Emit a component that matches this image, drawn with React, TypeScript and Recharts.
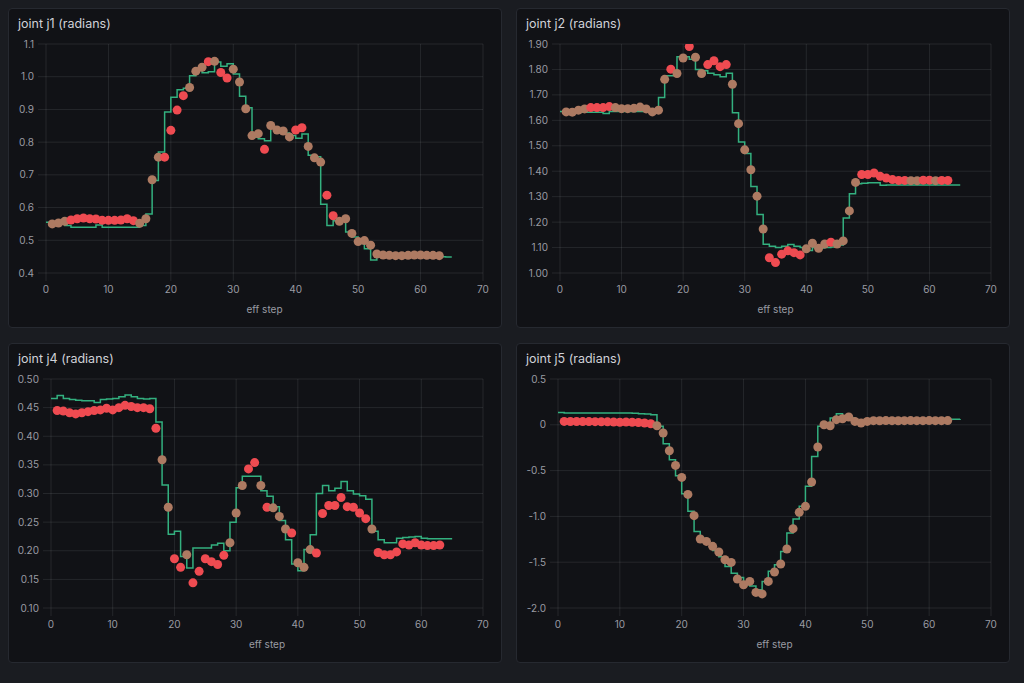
import React from "react";
import { ComposedChart, Line, Scatter, XAxis, YAxis, CartesianGrid } from "recharts";

// Measured joint positions per eff step (0..65) and predicted positions (steps 1..63)
const j1Actual = [
  0.555, 0.55, 0.55, 0.545, 0.54, 0.54, 0.54, 0.54, 0.547, 0.54, 0.54, 0.54, 0.54, 0.54, 0.54, 0.545,
  0.58, 0.683, 0.77, 0.892, 0.937, 0.96, 0.965, 1.003, 1.02, 1.012, 1.015, 1.045, 1.032, 1.04, 1.008, 0.94,
  0.905, 0.815, 0.81, 0.804, 0.845, 0.835, 0.828, 0.82, 0.812, 0.825, 0.76, 0.755, 0.61, 0.545, 0.56, 0.56,
  0.525, 0.51, 0.49, 0.474, 0.44, 0.45, 0.451, 0.451, 0.452, 0.452, 0.452, 0.452, 0.451, 0.451, 0.45, 0.45, 0.449, 0.449,
];
const j1Predicted = [
  0.55, 0.553, 0.558, 0.562, 0.566, 0.568, 0.566, 0.565, 0.561, 0.561, 0.561, 0.562, 0.566, 0.56, 0.552, 0.566,
  0.685, 0.754, 0.754, 0.836, 0.898, 0.942, 0.967, 1.017, 1.029, 1.046, 1.047, 1.013, 0.996, 1.023, 0.984, 0.902,
  0.82, 0.826, 0.778, 0.851, 0.837, 0.834, 0.816, 0.837, 0.844, 0.787, 0.752, 0.739, 0.638, 0.575, 0.558, 0.566,
  0.521, 0.496, 0.499, 0.485, 0.458, 0.455, 0.454, 0.453, 0.453, 0.454, 0.455, 0.455, 0.454, 0.454, 0.453,
];

const j2Actual = [
  1.635, 1.632, 1.632, 1.632, 1.632, 1.632, 1.632, 1.627, 1.635, 1.635, 1.635, 1.635, 1.635, 1.635, 1.635, 1.635,
  1.69, 1.775, 1.775, 1.85, 1.85, 1.84, 1.8, 1.795, 1.785, 1.779, 1.771, 1.785, 1.63, 1.515, 1.47, 1.34,
  1.23, 1.113, 1.105, 1.1, 1.105, 1.112, 1.105, 1.1, 1.088, 1.1, 1.098, 1.1, 1.102, 1.11, 1.216, 1.311,
  1.351, 1.353, 1.355, 1.355, 1.345, 1.346, 1.346, 1.346, 1.346, 1.346, 1.346, 1.346, 1.346, 1.346, 1.346, 1.346, 1.346, 1.346,
];
const j2Predicted = [
  1.633, 1.632, 1.64, 1.645, 1.65, 1.65, 1.65, 1.654, 1.65, 1.646, 1.646, 1.647, 1.652, 1.645, 1.633, 1.64,
  1.761, 1.801, 1.784, 1.845, 1.89, 1.848, 1.784, 1.819, 1.834, 1.811, 1.819, 1.742, 1.587, 1.484, 1.406, 1.302,
  1.173, 1.06, 1.041, 1.074, 1.087, 1.08, 1.071, 1.095, 1.117, 1.097, 1.114, 1.121, 1.114, 1.126, 1.244, 1.356,
  1.387, 1.387, 1.393, 1.38, 1.373, 1.367, 1.364, 1.364, 1.363, 1.363, 1.365, 1.365, 1.363, 1.364, 1.364,
];

const j4Actual = [
  0.466, 0.471, 0.466, 0.464, 0.463, 0.462, 0.462, 0.459, 0.464, 0.465, 0.466, 0.469, 0.472, 0.469, 0.466, 0.465,
  0.466, 0.425, 0.315, 0.229, 0.234, 0.19, 0.17, 0.205, 0.205, 0.205, 0.21, 0.213, 0.2, 0.25, 0.31, 0.33,
  0.33, 0.33, 0.305, 0.295, 0.277, 0.253, 0.219, 0.177, 0.165, 0.202, 0.228, 0.3, 0.314, 0.305, 0.309, 0.321,
  0.305, 0.299, 0.296, 0.29, 0.234, 0.219, 0.214, 0.214, 0.222, 0.223, 0.224, 0.225, 0.222, 0.221, 0.221, 0.221, 0.221, 0.221,
];
const j4Predicted = [
  0.445, 0.444, 0.441, 0.439, 0.441, 0.443, 0.445, 0.446, 0.449, 0.446, 0.45, 0.454, 0.452, 0.45, 0.45, 0.448,
  0.414, 0.359, 0.276, 0.186, 0.171, 0.193, 0.144, 0.164, 0.186, 0.181, 0.176, 0.192, 0.214, 0.266, 0.314, 0.343,
  0.354, 0.314, 0.276, 0.275, 0.26, 0.238, 0.231, 0.179, 0.171, 0.202, 0.196, 0.265, 0.279, 0.279, 0.293, 0.277,
  0.276, 0.266, 0.256, 0.238, 0.197, 0.193, 0.193, 0.198, 0.212, 0.21, 0.214, 0.21, 0.209, 0.209, 0.21,
];

const j5Actual = [
  0.135, 0.13, 0.13, 0.13, 0.13, 0.13, 0.13, 0.128, 0.128, 0.128, 0.13, 0.13, 0.126, 0.12, 0.118, 0.11,
  -0.017, -0.206, -0.381, -0.556, -0.752, -0.945, -1.164, -1.24, -1.298, -1.371, -1.44, -1.546, -1.62, -1.668, -1.746, -1.76,
  -1.8, -1.71, -1.6, -1.527, -1.382, -1.18, -1.028, -0.89, -0.672, -0.345, -0.017, 0.0, 0.074, 0.121, 0.1, 0.074,
  0.04, 0.05, 0.055, 0.055, 0.055, 0.055, 0.055, 0.055, 0.055, 0.055, 0.056, 0.056, 0.057, 0.058, 0.059, 0.06, 0.061, 0.062,
];
const j5Predicted = [
  0.037, 0.036, 0.036, 0.035, 0.035, 0.034, 0.033, 0.032, 0.03, 0.028, 0.03, 0.028, 0.025, 0.02, 0.012, -0.01,
  -0.09, -0.283, -0.443, -0.574, -0.76, -0.992, -1.247, -1.273, -1.327, -1.389, -1.473, -1.502, -1.683, -1.746, -1.71, -1.83,
  -1.846, -1.71, -1.607, -1.52, -1.356, -1.134, -0.956, -0.89, -0.624, -0.242, 0.001, -0.01, 0.056, 0.066, 0.085, 0.037,
  0.02, 0.037, 0.045, 0.044, 0.046, 0.045, 0.044, 0.045, 0.046, 0.045, 0.045, 0.046, 0.045, 0.045, 0.046,
];

const xTicks = [0, 10, 20, 30, 40, 50, 60, 70];
const j1Ticks = [0.4, 0.5, 0.6, 0.7, 0.8, 0.9, 1.0, 1.1];
const j2Ticks = [1.0, 1.1, 1.2, 1.3, 1.4, 1.5, 1.6, 1.7, 1.8, 1.9];
const j4Ticks = [0.1, 0.15, 0.2, 0.25, 0.3, 0.35, 0.4, 0.45, 0.5];
const j5Ticks = [-2.0, -1.5, -1.0, -0.5, 0, 0.5];

const BG = "#1a1c21";
const PANEL = "#111216";
const BORDER = "#262930";
const GRID = "rgba(240,250,255,0.09)";
const TEXT = "#d0d1d8";
const TICK = "#9a9ba3";
const GREEN = "#33b07f";
const RED = "#ef4b51";
const BROWN = "#ad7a62";
const FONT = "Inter, sans-serif";

const W = 492;
const H = 318;
const TOP = 35;
const PLOT_H = 229;
const DOT_R = 4.5;

type PanelDef = {
  title: string;
  actual: number[];
  predicted: number[];
  ticks: number[];
  digits: number;
  yWidth: number;
  left: number;
  top: number;
};

const panels: PanelDef[] = [
  { title: "joint j1 (radians)", actual: j1Actual, predicted: j1Predicted, ticks: j1Ticks, digits: 1, yWidth: 37, left: 8, top: 8 },
  { title: "joint j2 (radians)", actual: j2Actual, predicted: j2Predicted, ticks: j2Ticks, digits: 2, yWidth: 43, left: 516, top: 8 },
  { title: "joint j4 (radians)", actual: j4Actual, predicted: j4Predicted, ticks: j4Ticks, digits: 2, yWidth: 42, left: 8, top: 343 },
  { title: "joint j5 (radians)", actual: j5Actual, predicted: j5Predicted, ticks: j5Ticks, digits: 1, yWidth: 41, left: 516, top: 343 },
];

// a predicted dot is tinted when the measured trace runs through it
function buildDots(p: PanelDef) {
  const lo = p.ticks[0];
  const hi = p.ticks[p.ticks.length - 1];
  const tol = DOT_R / (PLOT_H / (hi - lo));
  return p.predicted.map((v, i) => {
    const step = i + 1;
    const a = p.actual[step - 1];
    const b = p.actual[step];
    const hit = v >= Math.min(a, b) - tol && v <= Math.max(a, b) + tol;
    return { step, predicted: v, hit };
  });
}

const PredDot = (props: any) => {
  if (props.cx == null || props.cy == null) return null;
  return <circle cx={props.cx} cy={props.cy} r={DOT_R} fill={props.payload?.hit ? BROWN : RED} />;
};

function JointPanel({ p }: { p: PanelDef }) {
  const rows = p.actual.map((v, i) => ({ step: i, actual: v }));
  const dots = buildDots(p);
  const tickStyle = { fill: TICK, fontSize: 10, fontFamily: FONT };
  const fmt = (v: number) => (v === 0 ? "0" : v.toFixed(p.digits));
  return (
    <div
      style={{
        position: "absolute", left: p.left, top: p.top, width: W + 2, height: H + 2,
        boxSizing: "border-box", background: PANEL, border: `1px solid ${BORDER}`, borderRadius: 4,
      }}
    >
      <div style={{ position: "absolute", left: 9, top: 7, fontSize: 12.5, lineHeight: "16px", color: TEXT, fontFamily: FONT }}>
        {p.title}
      </div>
      <div style={{ position: "absolute", left: 0, top: 0 }}>
        <ComposedChart width={W} height={H} data={rows} margin={{ top: TOP, right: 18, bottom: H - TOP - PLOT_H - 40, left: 0 }}>
          <CartesianGrid stroke={GRID} />
          <XAxis
            type="number" dataKey="step" domain={[0, 70]} ticks={xTicks} allowDataOverflow
            axisLine={false} tickLine={{ stroke: GRID }} tickSize={8} tickMargin={5} height={40}
            tick={tickStyle}
            label={{ value: "eff step", position: "insideBottom", offset: 0, fill: TICK, fontSize: 10, fontFamily: FONT }}
          />
          <YAxis
            type="number" domain={[p.ticks[0], p.ticks[p.ticks.length - 1]]} ticks={p.ticks} allowDataOverflow
            width={p.yWidth} axisLine={false} tickLine={{ stroke: GRID }} tickSize={8} tickMargin={4}
            tick={tickStyle} tickFormatter={fmt}
          />
          <Line type="stepAfter" dataKey="actual" stroke={GREEN} strokeWidth={1.5} dot={false} isAnimationActive={false} />
          <Scatter data={dots} dataKey="predicted" shape={PredDot} isAnimationActive={false} />
        </ComposedChart>
      </div>
    </div>
  );
}

export default function App() {
  return (
    <div style={{ position: "absolute", left: 0, top: 0, width: 1024, height: 683, background: BG, overflow: "hidden" }}>
      {panels.map((p) => (
        <JointPanel key={p.title} p={p} />
      ))}
    </div>
  );
}
